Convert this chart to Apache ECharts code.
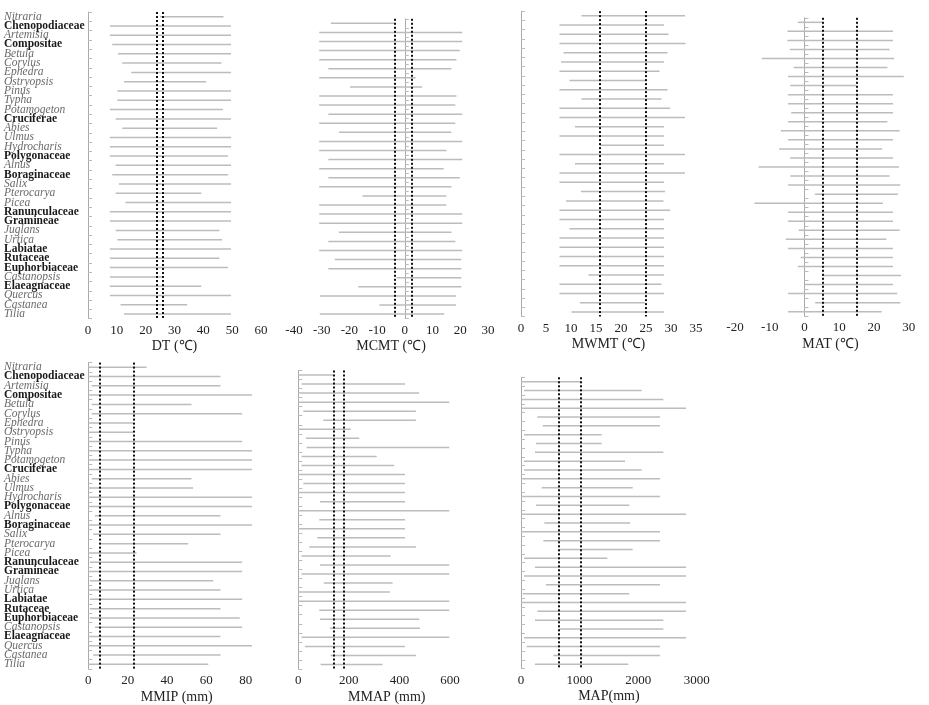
<!DOCTYPE html>
<html>
<head>
<meta charset="utf-8">
<script src="https://cdn.jsdelivr.net/npm/echarts@6/dist/echarts.min.js"></script>
<style>
  html, body { margin: 0; padding: 0; background: #fff; }
  #chart { width: 929px; height: 705px; }
</style>
</head>
<body>
<div id="chart"></div>
<script>
// taxa, top to bottom
const taxa = ['Nitraria', 'Chenopodiaceae', 'Artemisia', 'Compositae', 'Betula', 'Corylus', 'Ephedra',
  'Ostryopsis', 'Pinus', 'Typha', 'Potamogeton', 'Cruciferae', 'Abies', 'Ulmus', 'Hydrocharis',
  'Polygonaceae', 'Alnus', 'Boraginaceae', 'Salix', 'Pterocarya', 'Picea', 'Ranunculaceae', 'Gramineae',
  'Juglans', 'Urtica', 'Labiatae', 'Rutaceae', 'Euphorbiaceae', 'Castanopsis', 'Elaeagnaceae',
  'Quercus', 'Castanea', 'Tilia'];
// families are printed bold, genera italic
const families = ['Chenopodiaceae', 'Compositae', 'Cruciferae', 'Polygonaceae', 'Boraginaceae',
  'Ranunculaceae', 'Gramineae', 'Labiatae', 'Rutaceae', 'Euphorbiaceae', 'Elaeagnaceae'];

// DT
const dtMin = [25, 7.6, 7.6, 8.4, 10.4, 11.9, 15, 12.5, 10.2, 10.2, 7.6, 9.6, 11.9, 7.6, 7.6, 7.6, 9.6,
  8.4, 10.7, 9.6, 13, 7.6, 7.6, 9.6, 10.2, 7.6, 7.6, 7.6, 7.6, 7.6, 7.6, 11.3, 12.5];
const dtMax = [47, 49.6, 49.6, 49.6, 49.6, 46.3, 49.6, 41, 49.6, 49.6, 46.8, 49.6, 44.8, 49.6, 49.6, 48.6,
  49.6, 48.6, 49.6, 39.3, 49.6, 49.6, 49.6, 45.6, 46.5, 49.6, 45.6, 48.6, 25.7, 39.3, 49.6, 34.4, 49.6];
const dtRef = [24, 26];

// MCMT
const mcmtMin = [-26.7, -30.9, -30.9, -30.9, -30.9, -27.6, -30.9, -19.8, -30.9, -30.9, -27.6, -30.9, -23.8,
  -30.9, -30.9, -27.6, -30.9, -27.6, -30.9, -15.3, -30.9, -30.9, -30.9, -23.8, -27.6, -30.9, -25.3,
  -27.6, -3, -16.8, -30.7, -9.2, -30.7];
const mcmtMax = [-3.5, 20.7, 20.7, 19.8, 18.6, 16.8, 3.9, 6.2, 18.6, 18.2, 20.7, 18.2, 16.8, 20.7, 15,
  20.7, 14, 19.8, 16.8, 15, 15, 20.7, 20.7, 16.8, 18.2, 20.7, 20.4, 20.4, 20.4, 20.4, 18.5, 18.5, 14.2];
const mcmtRef = [-3.5, 2.6];

// MWMT
const mwmtMin = [12.1, 7.7, 7.7, 7.7, 8.5, 8, 7.7, 9.7, 7.7, 12.1, 7.7, 7.7, 10.8, 7.7, 15.8, 7.7, 10.8,
  7.7, 7.7, 12, 9, 7.7, 7.7, 9.7, 7.7, 7.7, 7.7, 7.7, 13.5, 7.7, 7.7, 11.8, 10.1];
const mwmtMax = [32.8, 28.6, 29.5, 32.9, 29.3, 28.6, 27.7, 25.1, 29.3, 28.1, 29.8, 32.8, 28.6, 28.6, 28.6,
  32.8, 28.6, 32.8, 28.6, 28.8, 28.5, 29.8, 28.6, 28.6, 28.6, 28.6, 28.6, 28.6, 28.6, 28.1, 28.6, 24.8, 28.6];
const mwmtRef = [15.7, 24.9];

// MAT
const matMin = [-1.9, -4.9, -4.9, -4.2, -12.3, -3.1, -4.7, -4.1, -4.7, -4.7, -3.8, -4.7, -6.8, -4.7, -7.3,
  -4.1, -13.2, -4.1, -4.7, 3, -14.4, -4.7, -4.7, -1.7, -5.4, -4.7, -1.1, -1.9, 5.2, 0, -4.7, 3.1, -4.7];
const matMax = [5.2, 25.5, 25.5, 24.5, 25.8, 23.9, 28.6, 15, 25.5, 25.5, 25.5, 23.9, 27.4, 25.5, 22.4,
  25.5, 27.2, 24.5, 27.6, 26.9, 22.6, 25.5, 25.5, 27.4, 23.6, 25.5, 25.5, 25.5, 27.8, 25.5, 26.7, 27.6, 22.2];
const matRef = [5.4, 15];

// MMIP
const mmipMin = [0, 0, 1.7, 0, 1.7, 1.7, 0, 0, 0, 0, 0, 0, 1.7, 0, 0, 0, 3.4, 0, 2.5, 6, 0, 0.8, 0, 0.8,
  0, 0.8, 0.8, 0.8, 3.4, 0, 0, 2.5, 0];
const mmipMax = [29.6, 67.2, 67.2, 83.2, 52.5, 78.2, 22.8, 22.8, 78.2, 83.2, 83.2, 83.2, 52.5, 53.3, 83.2,
  83.2, 67.2, 83.2, 67.2, 50.8, 24.5, 78.2, 78.2, 63.5, 67.2, 78.2, 67.2, 77, 78.2, 67.2, 83.2, 67.2, 61];
const mmipRef = [6, 23];

// MMAP
const mmapMin = [0, 13, 0, 0, 20, 99, 0, 30, 33, 13, 13, 0, 20, 0, 86, 0, 83, 0, 75, 43, 13, 86, 13, 101,
  0, 0, 83, 86, 125, 13, 26, 128, 88];
const mmapMax = [140, 422, 478, 597, 465, 465, 207, 241, 597, 310, 379, 422, 422, 422, 422, 597, 422, 422,
  422, 465, 365, 597, 597, 373, 362, 597, 597, 478, 481, 597, 422, 465, 333];
const mmapRef = [140, 178];

// MAP
const mapMin = [0, 51, 0, 0, 279, 370, 51, 256, 239, 51, 51, 0, 353, 0, 256, 0, 398, 0, 381, 655, 51, 239,
  51, 427, 28, 0, 279, 239, 655, 51, 97, 552, 239];
const mapMax = [1036, 2060, 2430, 2817, 2373, 2373, 1377, 1377, 2430, 1776, 2060, 2373, 1907, 2373, 1850,
  2817, 1861, 2373, 2373, 1907, 1474, 2817, 2817, 2373, 1850, 2817, 2817, 2430, 2430, 2817, 2373, 2373, 1833];
const mapRef = [653, 1028];

const serif = 'Liberation Serif';

const panels = [
  { name: 'DT (℃)', lo: dtMin, hi: dtMax, ref: dtRef, min: 0, max: 60, step: 5, every: 10,
    box: [88, 12, 173, 306.7], labels: true },
  { name: 'MCMT (℃)', lo: mcmtMin, hi: mcmtMax, ref: mcmtRef, min: -40, max: 30, step: 10, every: 10,
    box: [294, 18.8, 194, 299.8] },
  { name: 'MWMT (℃)', lo: mwmtMin, hi: mwmtMax, ref: mwmtRef, min: 0, max: 35, step: 5, every: 5,
    box: [521, 11.1, 175, 305.5] },
  { name: 'MAT (℃)', lo: matMin, hi: matMax, ref: matRef, min: -20, max: 35, step: 5, every: 10,
    box: [735, 17.8, 193, 298.4] },
  { name: 'MMIP (mm)', lo: mmipMin, hi: mmipMax, ref: mmipRef, min: 0, max: 90, step: 10, every: 20,
    box: [88.3, 362.6, 177, 307.4], labels: true },
  { name: 'MMAP (mm)', lo: mmapMin, hi: mmapMax, ref: mmapRef, min: 0, max: 700, step: 100, every: 200,
    box: [298.3, 370.5, 177, 299] },
  { name: 'MAP(mm)', lo: mapMin, hi: mapMax, ref: mapRef, min: 0, max: 3000, step: 500, every: 1000,
    box: [521, 377.3, 175.7, 291.4] }
];

function rangeItem(params, api) {
  const a = api.coord([api.value(1), api.value(0)]);
  const b = api.coord([api.value(2), api.value(0)]);
  return {
    type: 'line',
    shape: { x1: a[0], y1: a[1], x2: b[0], y2: b[1] },
    style: { stroke: '#bcbcbc', lineWidth: 1.5 }
  };
}

const grid = [], xAxis = [], yAxis = [], series = [];
panels.forEach((p, i) => {
  grid.push({ left: p.box[0], top: p.box[1], width: p.box[2], height: p.box[3] });
  xAxis.push({
    type: 'value', gridIndex: i, min: p.min, max: p.max, interval: p.step,
    name: p.name, nameLocation: 'middle', nameGap: 21,
    nameTextStyle: { fontFamily: serif, fontSize: 14, color: '#222' },
    axisLine: { lineStyle: { color: '#9a9a9a' } },
    axisTick: { inside: true, length: 3, lineStyle: { color: '#9a9a9a' } },
    axisLabel: {
      margin: 5, fontFamily: serif, fontSize: 13, color: '#222',
      formatter: v => (Math.round(v) % p.every === 0 ? String(v) : '')
    },
    splitLine: { show: false }
  });
  yAxis.push({
    type: 'category', gridIndex: i, data: taxa, inverse: true,
    axisLine: { lineStyle: { color: '#aaa' } },
    axisTick: { show: true, inside: true, length: 4, interval: 0, lineStyle: { color: '#bbb' } },
    axisLabel: {
      show: !!p.labels, interval: 0, align: 'left', margin: p.box[0] - 4,
      formatter: v => (families.includes(v) ? '{f|' + v + '}' : '{g|' + v + '}'),
      rich: {
        f: { fontFamily: serif, fontSize: 11.5, fontWeight: 'bold', color: '#1a1a1a' },
        g: { fontFamily: serif, fontSize: 11.5, fontStyle: 'italic', color: '#6a6a6a' }
      }
    },
    splitLine: { show: false }
  });
  series.push({
    type: 'custom', xAxisIndex: i, yAxisIndex: i, renderItem: rangeItem,
    encode: { x: [1, 2], y: 0 },
    data: taxa.map((t, k) => [k, p.lo[k], p.hi[k]])
  });
  series.push({
    type: 'scatter', xAxisIndex: i, yAxisIndex: i, data: [],
    markLine: {
      silent: true, symbol: 'none', label: { show: false },
      lineStyle: { color: '#111', type: [2, 2], width: 2 },
      data: p.ref.map(v => ({ xAxis: v }))
    }
  });
});

const chart = echarts.init(document.getElementById('chart'));
chart.setOption({
  animation: false,
  backgroundColor: '#fff',
  grid, xAxis, yAxis, series
});
window.addEventListener('resize', () => chart.resize());
</script>
</body>
</html>
